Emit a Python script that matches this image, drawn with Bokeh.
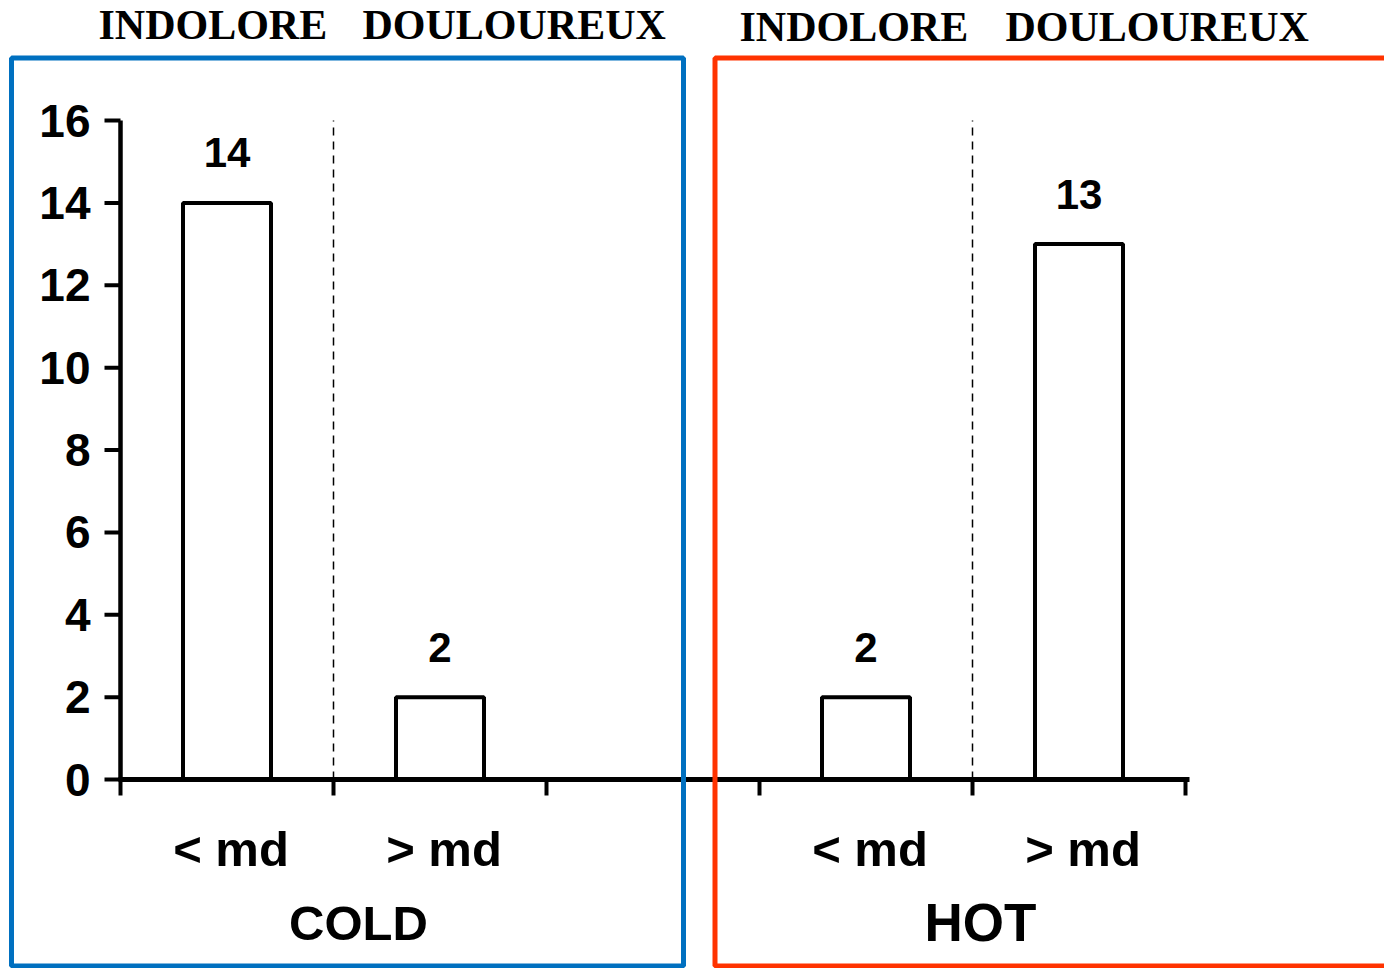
from bokeh.plotting import figure
from bokeh.models import Range1d
from bokeh.core.properties import value
from bokeh.embed import file_html
from bokeh.resources import INLINE

# ---------------- data ----------------
categories = ["< md", "> md", "< md", "> md"]
groups = ["COLD", "COLD", "HOT", "HOT"]
counts = [14, 2, 2, 13]
slots = [0, 1, 3, 4]              # slot index on the x axis (slot 2 left empty)
y_ticks = [0, 2, 4, 6, 8, 10, 12, 14, 16]
x_ticks = [0, 1, 2, 3, 4, 5]
group_names = ["COLD", "HOT"]
header_words = ["INDOLORE", "DOULOUREUX", "INDOLORE", "DOULOUREUX"]
dividers = [1, 4]

# ---------------- layout ----------------
W, H = 1384, 968
ORIGIN_PX, SLOT_PX = 120, 213.0
ZERO_PY, UNIT_PY = 779, 41.1875


def dx(px):
    return (px - ORIGIN_PX) / SLOT_PX


def dy(py):
    return (ZERO_PY - py) / UNIT_PY


SANS = value("Liberation Sans")
SERIF = value("Liberation Serif")

p = figure(width=W, height=H, x_range=Range1d(dx(0), dx(W)), y_range=Range1d(dy(H), dy(0)),
           output_backend="svg", toolbar_location=None, min_border=0,
           outline_line_color=None, background_fill_color="white", border_fill_color="white")
p.xaxis.visible = False
p.yaxis.visible = False
p.xgrid.visible = False
p.ygrid.visible = False

centers = [s + 0.5 for s in slots]

# dashed dividers
p.segment(x0=dividers, y0=[0] * len(dividers), x1=dividers, y1=[max(y_ticks)] * len(dividers),
          line_color="black", line_width=1.5, line_dash="8 6")

# bars
p.vbar(x=centers, top=counts, bottom=0, width=88 / SLOT_PX,
       fill_color="white", line_color="black", line_width=4)

# y axis
p.segment(x0=[0], y0=[0], x1=[0], y1=[max(y_ticks)], line_color="black", line_width=4.5)
p.segment(x0=[dx(104)] * len(y_ticks), y0=y_ticks, x1=[0] * len(y_ticks), y1=y_ticks,
          line_color="black", line_width=4)
p.text(x=[dx(90)] * len(y_ticks), y=y_ticks, text=[str(t) for t in y_ticks],
       text_font=SANS, text_font_style="bold", text_font_size="46px",
       text_align="right", text_baseline="middle", text_color="black")

# x axis
p.segment(x0=[dx(118)], y0=[0], x1=[dx(1189)], y1=[0], line_color="black", line_width=5)
p.segment(x0=x_ticks, y0=[0] * len(x_ticks), x1=x_ticks, y1=[dy(795)] * len(x_ticks),
          line_color="black", line_width=4)

# value labels
p.text(x=centers, y=[c + 50 / UNIT_PY for c in counts], text=[str(c) for c in counts],
       text_font=SANS, text_font_style="bold", text_font_size="42px",
       text_align="center", text_baseline="middle", text_color="black")

# category labels
p.text(x=[c + dx(124) for c in centers], y=[dy(848)] * len(categories), text=categories,
       text_font=SANS, text_font_style="bold", text_font_size="49px",
       text_align="center", text_baseline="middle", text_color="black")

# group labels
p.text(x=[dx(358), dx(980)], y=[dy(922.5), dy(921.5)], text=group_names,
       text_font=SANS, text_font_style="bold", text_font_size=["49px", "53px"],
       text_align="center", text_baseline="middle", text_color="black")

# headers
p.text(x=[dx(98), dx(362), dx(739), dx(1005)], y=[dy(24), dy(24), dy(26), dy(26)],
       text=header_words, text_font=SERIF, text_font_style="bold", text_font_size="42px",
       text_align="left", text_baseline="middle", text_color="black")

# frames
p.quad(left=[dx(11)], right=[dx(683)], top=[dy(57.5)], bottom=[dy(965.5)],
       fill_color=None, line_color="#0070C0", line_width=5)
p.quad(left=[dx(714.5)], right=[dx(1400)], top=[dy(57.5)], bottom=[dy(965.5)],
       fill_color=None, line_color="#FF3300", line_width=5)

open("out.html", "w").write(file_html(p, INLINE))
